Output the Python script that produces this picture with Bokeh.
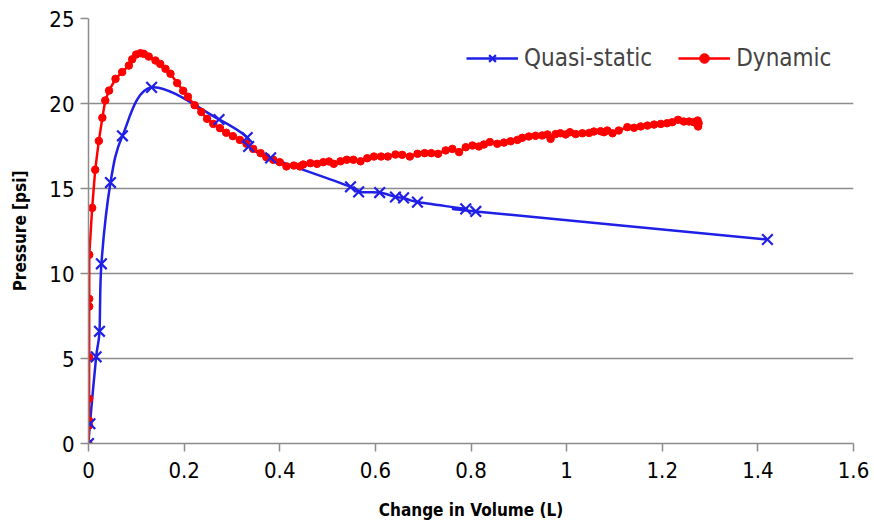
import numpy as np
from bokeh.plotting import figure
from bokeh.models import Range1d, Legend, LegendItem, CustomJSTickFormatter
from bokeh.embed import file_html
from bokeh.resources import INLINE

# ---- data ----
qs_x = [0, 0.003, 0.016, 0.023, 0.027, 0.046, 0.071, 0.132, 0.273, 0.332, 0.335, 0.381,
        0.548, 0.565, 0.609, 0.642, 0.659, 0.688, 0.789, 0.81, 1.42]
qs_y = [0, 1.16, 5.1, 6.6, 10.57, 15.35, 18.1, 20.95, 19.06, 18.0, 17.47, 16.8,
        15.1, 14.8, 14.76, 14.5, 14.45, 14.2, 13.8, 13.65, 12.0]

dyn_x = [0, 0.001, 0.001, 0.0012, 0.0014, 0.0015, 0.0015, 0.0016, 0.0077, 0.014, 0.0216,
         0.029, 0.035, 0.043, 0.0565, 0.0704, 0.0844, 0.0914, 0.0997, 0.1088, 0.1157,
         0.126, 0.140, 0.150, 0.161, 0.1715, 0.1855, 0.198, 0.208, 0.222, 0.236, 0.248,
         0.261, 0.275, 0.288, 0.302, 0.3166, 0.3305, 0.3445, 0.36, 0.372, 0.3863, 0.40,
         0.414, 0.4295, 0.442, 0.449, 0.464, 0.478, 0.491, 0.503, 0.513, 0.527, 0.54,
         0.554, 0.569, 0.583, 0.597, 0.612, 0.626, 0.642, 0.656, 0.672, 0.688, 0.703,
         0.717, 0.731, 0.747, 0.761, 0.775, 0.789, 0.803, 0.8165, 0.827, 0.8395, 0.855,
         0.869, 0.883, 0.897, 0.907, 0.921, 0.935, 0.949, 0.96, 0.9665, 0.977, 0.987,
         0.998, 1.007, 1.019, 1.033, 1.047, 1.057, 1.071, 1.078, 1.085, 1.096, 1.109,
         1.127, 1.141, 1.155, 1.169, 1.183, 1.197, 1.21, 1.221, 1.233, 1.245, 1.256,
         1.266, 1.274, 1.275, 1.275, 1.276]
dyn_y = [0, 1.06, 1.35, 2.63, 5.08, 8.06, 8.51, 11.1, 13.86, 16.1, 17.8,
         19.16, 20.18, 20.76, 21.45, 21.85, 22.23, 22.6, 22.88, 22.96, 22.92,
         22.76, 22.53, 22.33, 22.04, 21.75, 21.2, 20.75, 20.4, 19.9, 19.5, 19.1,
         18.8, 18.55, 18.28, 18.08, 17.86, 17.63, 17.33, 17.08, 16.84, 16.69, 16.55,
         16.3, 16.35, 16.3, 16.41, 16.49, 16.45, 16.55, 16.59, 16.45, 16.6, 16.69,
         16.69, 16.6, 16.78, 16.88, 16.88, 16.88, 17.0, 16.98, 16.88, 17.04, 17.08,
         17.08, 17.04, 17.24, 17.33, 17.14, 17.43, 17.53, 17.47, 17.59, 17.73, 17.63,
         17.7, 17.78, 17.86, 17.98, 18.06, 18.1, 18.12, 18.18, 17.92, 18.2, 18.25,
         18.18, 18.31, 18.2, 18.25, 18.27, 18.35, 18.37, 18.31, 18.41, 18.25, 18.41,
         18.61, 18.57, 18.65, 18.7, 18.76, 18.8, 18.84, 18.9, 19.04, 18.94, 18.94,
         18.9, 19.0, 18.76, 18.65, 18.85]

x_ticks = [0, 0.2, 0.4, 0.6, 0.8, 1.0, 1.2, 1.4, 1.6]
y_ticks = [0, 5, 10, 15, 20, 25]

BLUE = "#1f1fe6"
RED = "#ff0000"
GRID = "#8c8c8c"
FONT = "'DejaVu Sans Condensed', 'Liberation Sans Narrow', sans-serif"

p = figure(width=874, height=524, output_backend="svg", toolbar_location=None,
           x_range=Range1d(0, 1.6), y_range=Range1d(0, 25),
           min_border_left=88, min_border_right=21, min_border_top=18, min_border_bottom=81)
p.outline_line_color = None
p.background_fill_color = "white"
p.border_fill_color = "white"

# axes
p.xaxis.ticker = x_ticks
p.yaxis.ticker = y_ticks
p.xaxis.formatter = CustomJSTickFormatter(code="return String(Math.round(tick*10)/10)")
for ax in (p.xaxis[0], p.yaxis[0]):
    ax.axis_line_color = GRID
    ax.axis_line_width = 1.5
    ax.major_tick_line_color = GRID
    ax.major_tick_line_width = 1.5
    ax.major_tick_out = 8
    ax.major_tick_in = 0
    ax.minor_tick_line_color = None
    ax.major_label_text_font = FONT
    ax.major_label_text_font_size = "22px"
    ax.major_label_text_color = "black"
    ax.axis_label_text_font = FONT
    ax.axis_label_text_font_style = "bold"
    ax.axis_label_text_font_size = "17px"
    ax.axis_label_text_color = "black"
p.xaxis.axis_label = "Change in Volume (L)"
p.yaxis.axis_label = "Pressure [psi]"
p.xaxis.major_label_standoff = 10
p.yaxis.major_label_standoff = 6
p.xaxis.axis_label_standoff = 19
p.yaxis.axis_label_standoff = 16

p.xgrid.grid_line_color = None
p.ygrid.grid_line_color = GRID
p.ygrid.grid_line_width = 1.5

# smooth (Excel-like) bezier for quasi-static line
qx = np.array(qs_x, dtype=float)
qy = np.array(qs_y, dtype=float)
px_ = np.concatenate([[qx[0]], qx, [qx[-1]]])
py_ = np.concatenate([[qy[0]], qy, [qy[-1]]])
n = len(qx)
x0 = qx[:-1]; y0 = qy[:-1]; x1 = qx[1:]; y1 = qy[1:]
cx0 = x0 + (px_[2:n+1] - px_[0:n-1]) / 6.0
cy0 = y0 + (py_[2:n+1] - py_[0:n-1]) / 6.0
cx1 = x1 - (px_[3:n+2] - px_[1:n]) / 6.0
cy1 = y1 - (py_[3:n+2] - py_[1:n]) / 6.0

qs_line = p.bezier(x0=x0, y0=y0, x1=x1, y1=y1, cx0=cx0, cy0=cy0, cx1=cx1, cy1=cy1,
                   line_color=BLUE, line_width=2.5)
dyn_line = p.line(dyn_x, dyn_y, line_color=RED, line_width=2.5)
dyn_pts = p.scatter(dyn_x, dyn_y, marker="circle", size=7.5, fill_color=RED, line_color=RED)
qs_pts = p.scatter(qs_x, qs_y, marker="x", size=15, line_color=BLUE, line_width=2.2)

legend = Legend(items=[LegendItem(label="Quasi-static", renderers=[qs_line, qs_pts]),
                       LegendItem(label="Dynamic", renderers=[dyn_line, dyn_pts])],
                orientation="horizontal", location=(378, 371),
                border_line_color=None, background_fill_alpha=0,
                label_text_font=FONT, label_text_font_size="24px",
                glyph_width=52, glyph_height=24, label_standoff=6, spacing=26,
                padding=0, margin=0, label_text_baseline="middle")
p.add_layout(legend)

open("out.html", "w").write(file_html(p, INLINE))
